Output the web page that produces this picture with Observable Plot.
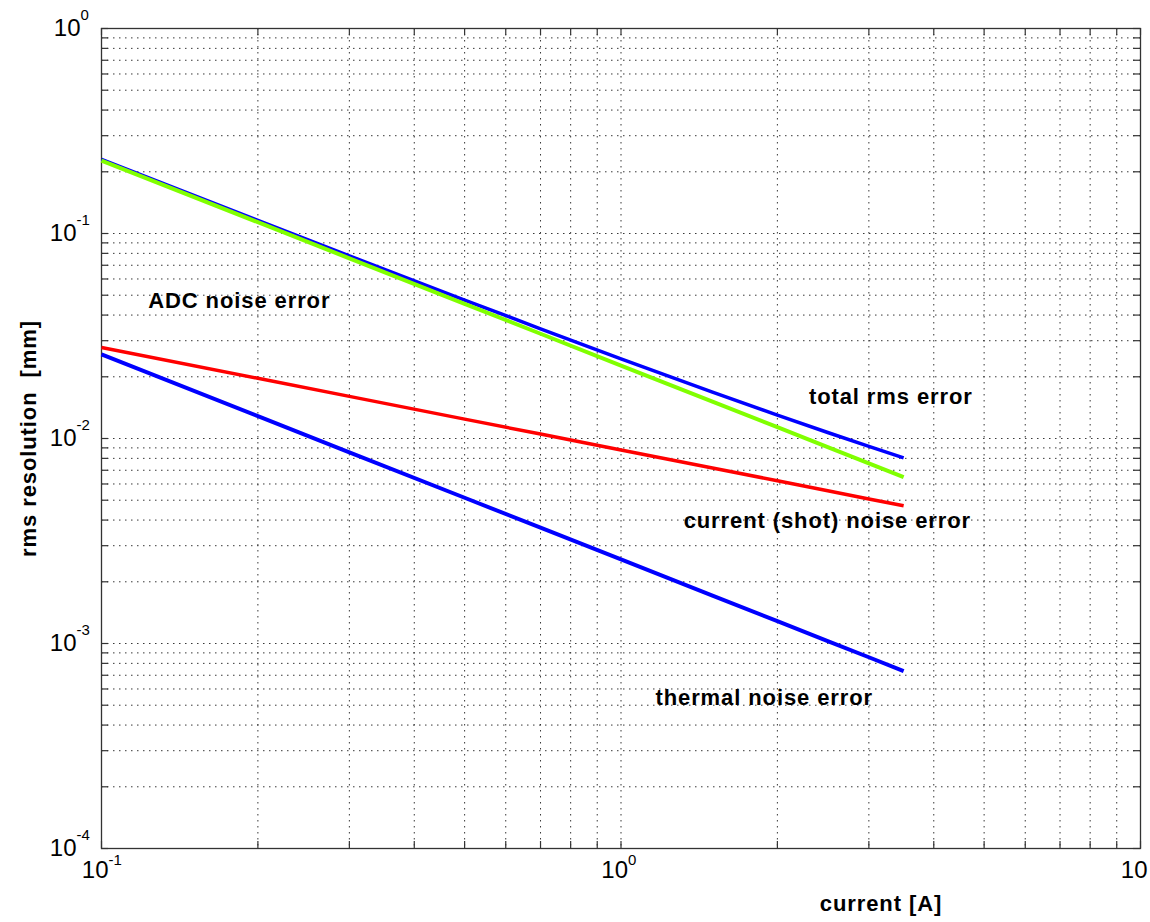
<!DOCTYPE html>
<html>
<head>
<meta charset="utf-8">
<script src="https://cdn.jsdelivr.net/npm/d3@7"></script>
<script src="https://cdn.jsdelivr.net/npm/@observablehq/plot@0.6"></script>
<style>
  html, body { margin: 0; padding: 0; background: #fff; }
  #chart svg { display: block; }
</style>
</head>
<body>
<div id="chart"></div>
<script>
// current [A]
const current = [0.1, 0.2, 0.3, 0.5, 0.7, 1, 1.5, 2, 2.5, 3, 3.5];
// rms resolution [mm]
const totalErr   = [0.2301, 0.1159, 0.07783, 0.04735, 0.03429, 0.02448, 0.01683, 0.013006, 0.010697, 0.009148, 0.008044];
const adcErr     = [0.227, 0.1135, 0.07567, 0.0454, 0.03243, 0.0227, 0.01513, 0.01135, 0.00908, 0.007567, 0.006486];
const shotErr    = [0.0278, 0.01966, 0.01605, 0.01243, 0.01051, 0.00879, 0.00718, 0.00622, 0.00556, 0.00507, 0.0047];
const thermalErr = [0.0257, 0.01285, 0.008567, 0.00514, 0.003671, 0.00257, 0.001713, 0.001285, 0.001028, 0.000857, 0.000734];

// annotation labels
const labelText = ["ADC noise error", "total rms error", "current (shot) noise error", "thermal noise error"];
const labelX = [0.123, 2.30, 1.32, 1.165];
const labelY = [0.0471, 0.0160, 0.00398, 0.000545];

// ticks / grid
const xGrid = [0.1,0.2,0.3,0.4,0.5,0.6,0.7,0.8,0.9,1,2,3,4,5,6,7,8,9,10];
const yGrid = [0.0001,0.0002,0.0003,0.0004,0.0005,0.0006,0.0007,0.0008,0.0009,
               0.001,0.002,0.003,0.004,0.005,0.006,0.007,0.008,0.009,
               0.01,0.02,0.03,0.04,0.05,0.06,0.07,0.08,0.09,
               0.1,0.2,0.3,0.4,0.5,0.6,0.7,0.8,0.9,1];
const xTickValues = [0.1, 1, 10];
const xTickExp = ["-1", "0", ""];
const yTickValues = [0.0001, 0.001, 0.01, 0.1, 1];
const yTickExp = ["-4", "-3", "-2", "-1", "0"];

const seriesDefs = [
  {name: "thermal", values: thermalErr, color: "#0000ff", width: 4},
  {name: "shot", values: shotErr, color: "#ff0000", width: 3.5},
  {name: "total", values: totalErr, color: "#0000ff", width: 3.5},
  {name: "adc", values: adcErr, color: "#80ff00", width: 4}
];

const xTicks = xTickValues.map((v, i) => ({v, e: xTickExp[i]}));
const yTicks = yTickValues.map((v, i) => ({v, e: yTickExp[i]}));
const labels = labelText.map((t, i) => ({t, x: labelX[i], y: labelY[i]}));

const W = 1150, H = 922, ML = 101, MR = 10, MT = 28, MB = 74;
const FW = W - ML - MR, FH = H - MT - MB;
const tickLen = 7;
const gridStyle = {stroke: "#222", strokeWidth: 1, strokeDasharray: "1.5,4.5", strokeOpacity: 0.9};
const tickStyle = {stroke: "#333", strokeWidth: 1.2};
const font = "Liberation Sans, Arial, Helvetica, sans-serif";

const marks = [
  // grid
  Plot.ruleX(xGrid.slice(1, -1), {x: d => d, ...gridStyle}),
  Plot.ruleY(yGrid.slice(1, -1), {y: d => d, ...gridStyle}),
  // inward tick marks on four sides
  Plot.ruleX(xGrid, {x: d => d, insetTop: FH - tickLen, ...tickStyle}),
  Plot.ruleX(xGrid, {x: d => d, insetBottom: FH - tickLen, ...tickStyle}),
  Plot.ruleY(yGrid, {y: d => d, insetRight: FW - tickLen, ...tickStyle}),
  Plot.ruleY(yGrid, {y: d => d, insetLeft: FW - tickLen, ...tickStyle}),
  Plot.frame({stroke: "#333", strokeWidth: 1.3}),
];

for (const s of seriesDefs) {
  marks.push(Plot.line(current.map((c, i) => ({c, v: s.values[i]})), {
    x: "c", y: "v", stroke: s.color, strokeWidth: s.width, strokeLinecap: "butt"
  }));
}

marks.push(
  // annotations
  Plot.text(labels, {x: "x", y: "y", text: "t", textAnchor: "start", fontSize: 22, fontWeight: "bold", fill: "#000", fontFamily: font}),
  // x tick labels
  Plot.text(xTicks, {x: "v", frameAnchor: "bottom", text: () => "10", textAnchor: "end", dx: 7, dy: 29, fontSize: 24, fill: "#000", fontFamily: font}),
  Plot.text(xTicks, {x: "v", frameAnchor: "bottom", text: "e", textAnchor: "start", dx: 7, dy: 16, fontSize: 15, fill: "#000", fontFamily: font}),
  // y tick labels
  Plot.text(yTicks.filter(d => d.e === "0"), {y: "v", frameAnchor: "left", text: () => "10", textAnchor: "end", dx: -21, dy: 0, fontSize: 24, fill: "#000", fontFamily: font}),
  Plot.text(yTicks.filter(d => d.e !== "0"), {y: "v", frameAnchor: "left", text: () => "10", textAnchor: "end", dx: -25, dy: 0, fontSize: 24, fill: "#000", fontFamily: font}),
  Plot.text(yTicks.filter(d => d.e === "0"), {y: "v", frameAnchor: "left", text: "e", textAnchor: "start", dx: -21, dy: -13, fontSize: 15, fill: "#000", fontFamily: font}),
  Plot.text(yTicks.filter(d => d.e !== "0"), {y: "v", frameAnchor: "left", text: "e", textAnchor: "start", dx: -25, dy: -13, fontSize: 15, fill: "#000", fontFamily: font}),
  // axis titles
  Plot.text(["current [A]"], {frameAnchor: "bottom", text: d => d, textAnchor: "middle", dx: 260, dy: 62, fontSize: 22, fontWeight: "bold", fill: "#000", fontFamily: font}),
  Plot.text(["rms resolution  [mm]"], {frameAnchor: "left", text: d => d, textAnchor: "middle", rotate: -90, dx: -73, dy: 0, fontSize: 22, fontWeight: "bold", fill: "#000", fontFamily: font})
);

const chart = Plot.plot({
  width: W, height: H,
  marginLeft: ML, marginRight: MR, marginTop: MT, marginBottom: MB,
  x: {type: "log", domain: [0.1, 10], axis: null},
  y: {type: "log", domain: [0.0001, 1], axis: null},
  style: {background: "#fff", overflow: "hidden"},
  marks
});
d3.select(chart).selectAll('g[font-weight="bold"]').attr("letter-spacing", "0.9");
document.getElementById("chart").appendChild(chart);
</script>
</body>
</html>
